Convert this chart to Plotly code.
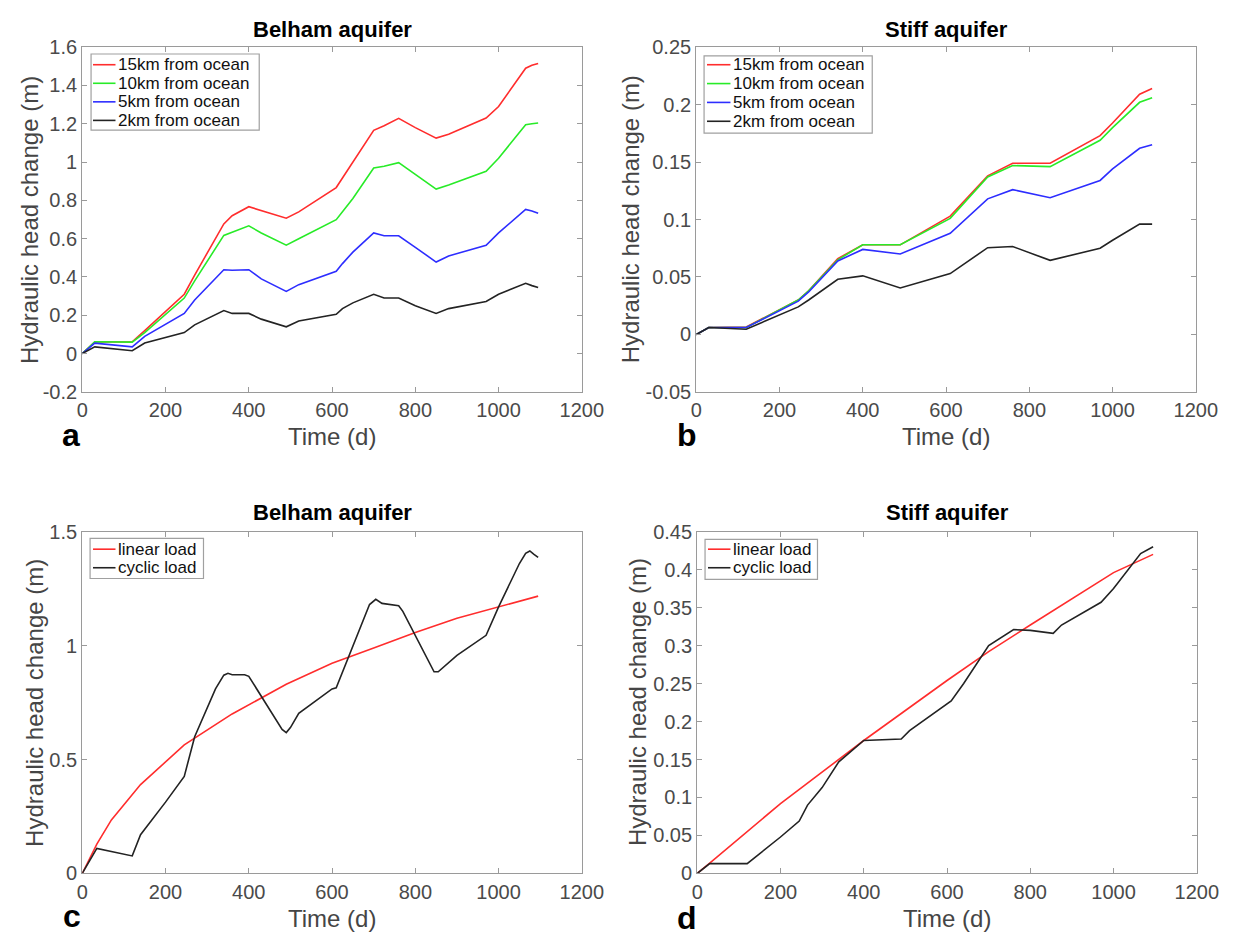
import plotly.graph_objects as go

# ---- Panel a / b : head change at different distances from the ocean ----
t_belham = [0, 30, 120, 150, 245, 270, 340, 360, 400, 430, 490, 520, 610, 625, 650,
            700, 725, 760, 800, 850, 880, 970, 1000, 1065, 1080, 1095]
belham_15km = [0, 0.061, 0.062, 0.12, 0.31, 0.41, 0.677, 0.72, 0.767, 0.747, 0.707, 0.74,
               0.867, 0.917, 1.0, 1.166, 1.19, 1.228, 1.18, 1.125, 1.145, 1.23, 1.29,
               1.49, 1.505, 1.515]
belham_10km = [0, 0.062, 0.06, 0.11, 0.29, 0.38, 0.617, 0.635, 0.667, 0.63, 0.566, 0.6,
               0.699, 0.74, 0.81, 0.969, 0.978, 0.997, 0.935, 0.859, 0.88, 0.952, 1.02,
               1.195, 1.2, 1.204]
belham_5km = [0, 0.055, 0.035, 0.09, 0.21, 0.28, 0.438, 0.435, 0.438, 0.39, 0.325, 0.36,
              0.43, 0.47, 0.53, 0.63, 0.615, 0.615, 0.555, 0.478, 0.51, 0.566, 0.63,
              0.753, 0.745, 0.733]
belham_2km = [0, 0.035, 0.015, 0.055, 0.11, 0.15, 0.225, 0.21, 0.21, 0.18, 0.14, 0.17,
              0.205, 0.235, 0.265, 0.31, 0.29, 0.29, 0.25, 0.21, 0.235, 0.272, 0.31,
              0.367, 0.355, 0.345]

t_stiff = [0, 30, 120, 245, 270, 340, 400, 490, 610, 700, 760, 850, 970, 1000, 1065, 1095]
stiff_15km = [0, 0.006, 0.0065, 0.030, 0.038, 0.066, 0.078, 0.078, 0.103, 0.138, 0.149,
              0.149, 0.173, 0.184, 0.209, 0.214]
stiff_10km = [0, 0.006, 0.006, 0.030, 0.038, 0.065, 0.078, 0.078, 0.101, 0.137, 0.147,
              0.146, 0.169, 0.180, 0.202, 0.206]
stiff_5km = [0, 0.006, 0.006, 0.029, 0.037, 0.064, 0.074, 0.070, 0.088, 0.118, 0.126,
             0.119, 0.134, 0.144, 0.162, 0.165]
stiff_2km = [0, 0.006, 0.0045, 0.024, 0.030, 0.048, 0.051, 0.0405, 0.053, 0.0755, 0.0765,
             0.0645, 0.075, 0.082, 0.096, 0.096]

# ---- Panel c / d : linear vs cyclic loading ----
t_lin_c = [0, 35, 70, 140, 245, 360, 490, 600, 700, 800, 900, 1000, 1095]
belham_linear = [0, 0.129, 0.235, 0.39, 0.564, 0.70, 0.83, 0.922, 0.989, 1.057, 1.12,
                 1.17, 1.217]
t_cyc_c = [0, 35, 120, 140, 200, 245, 270, 300, 320, 340, 350, 360, 390, 400, 480, 490,
           500, 520, 600, 610, 640, 670, 690, 705, 720, 760, 770, 845, 855, 900, 970,
           1000, 1030, 1050, 1065, 1075, 1085, 1095]
belham_cyclic = [0, 0.11, 0.077, 0.17, 0.313, 0.426, 0.6, 0.73, 0.81, 0.87, 0.878, 0.872,
                 0.872, 0.865, 0.632, 0.618, 0.64, 0.703, 0.81, 0.815, 0.95, 1.09, 1.18,
                 1.203, 1.185, 1.175, 1.15, 0.885, 0.885, 0.957, 1.045, 1.17, 1.28, 1.36,
                 1.405, 1.415, 1.40, 1.387]

t_lin_d = [0, 30, 200, 400, 600, 700, 800, 1000, 1095]
stiff_linear = [0, 0.0136, 0.092, 0.175, 0.254, 0.292, 0.327, 0.396, 0.42]
t_cyc_d = [0, 30, 120, 200, 245, 265, 300, 340, 400, 490, 510, 610, 640, 700, 760, 800,
           855, 875, 970, 1000, 1065, 1095]
stiff_cyclic = [0, 0.013, 0.013, 0.048, 0.069, 0.09, 0.113, 0.147, 0.175, 0.177, 0.188,
                0.227, 0.25, 0.30, 0.321, 0.32, 0.316, 0.327, 0.357, 0.375, 0.421, 0.43]

# ---- Tick labels ----
x_ticks = [0, 200, 400, 600, 800, 1000, 1200]
x_ticklabels = ["0", "200", "400", "600", "800", "1000", "1200"]
ya_ticks = [-0.2, 0, 0.2, 0.4, 0.6, 0.8, 1.0, 1.2, 1.4, 1.6]
ya_ticklabels = ["-0.2", "0", "0.2", "0.4", "0.6", "0.8", "1", "1.2", "1.4", "1.6"]
yb_ticks = [-0.05, 0, 0.05, 0.1, 0.15, 0.2, 0.25]
yb_ticklabels = ["-0.05", "0", "0.05", "0.1", "0.15", "0.2", "0.25"]
yc_ticks = [0, 0.5, 1.0, 1.5]
yc_ticklabels = ["0", "0.5", "1", "1.5"]
yd_ticks = [0, 0.05, 0.1, 0.15, 0.2, 0.25, 0.3, 0.35, 0.4, 0.45]
yd_ticklabels = ["0", "0.05", "0.1", "0.15", "0.2", "0.25", "0.3", "0.35", "0.4", "0.45"]

distance_names = ["15km from ocean", "10km from ocean", "5km from ocean", "2km from ocean"]
load_names = ["linear load", "cyclic load"]

RED = "rgb(255,45,45)"
GREEN = "rgb(40,235,40)"
BLUE = "rgb(45,45,255)"
BLACK = "rgb(35,35,35)"
LW = 1.6
FONT = "Liberation Sans, Arial, sans-serif"
W, H = 1255, 946

fig = go.Figure()


def add_line(x, y, name, color, xa, ya):
    fig.add_trace(go.Scatter(x=x, y=y, name=name, mode="lines",
                             line=dict(color=color, width=LW),
                             xaxis=xa, yaxis=ya, showlegend=False))


colors4 = [RED, GREEN, BLUE, BLACK]
for name, ys, c in zip(distance_names, [belham_15km, belham_10km, belham_5km, belham_2km], colors4):
    add_line(t_belham, ys, name, c, "x", "y")
for name, ys, c in zip(distance_names, [stiff_15km, stiff_10km, stiff_5km, stiff_2km], colors4):
    add_line(t_stiff, ys, name, c, "x2", "y2")
add_line(t_lin_c, belham_linear, load_names[0], RED, "x3", "y3")
add_line(t_cyc_c, belham_cyclic, load_names[1], BLACK, "x3", "y3")
add_line(t_lin_d, stiff_linear, load_names[0], RED, "x4", "y4")
add_line(t_cyc_d, stiff_cyclic, load_names[1], BLACK, "x4", "y4")


def px_x(p):
    return p / W


def px_y(p):
    return 1 - p / H


AX_COLOR = "#9a9a9a"
TICK_FONT = dict(family=FONT, size=20, color="#4a4a4a")

# plot areas in pixels: left, right, top, bottom
boxes = {
    "": (78, 589, 37, 390),
    "2": (706, 1217, 37, 390),
    "3": (78, 589, 533, 883),
    "4": (707, 1218, 533, 883),
}
yinfo = {
    "": ([-0.2, 1.6], ya_ticks, ya_ticklabels),
    "2": ([-0.05, 0.25], yb_ticks, yb_ticklabels),
    "3": ([0, 1.5], yc_ticks, yc_ticklabels),
    "4": ([0, 0.45], yd_ticks, yd_ticklabels),
}

layout_axes = {}
for k, (l, r, t, b) in boxes.items():
    yr, yt, yl = yinfo[k]
    common = dict(showline=True, linecolor=AX_COLOR, linewidth=1.2, mirror="ticks",
                  ticks="inside", ticklen=5, tickcolor=AX_COLOR, tickwidth=1,
                  showgrid=False, zeroline=False, tickfont=TICK_FONT, fixedrange=True)
    layout_axes["xaxis" + k] = dict(domain=[px_x(l), px_x(r)], range=[0, 1200],
                                    tickvals=x_ticks, ticktext=x_ticklabels,
                                    anchor="y" + k, **common)
    layout_axes["yaxis" + k] = dict(domain=[px_y(b), px_y(t)], range=yr,
                                    tickvals=yt, ticktext=yl,
                                    anchor="x" + k, **common)

fig.update_layout(**layout_axes)

shapes = []
annotations = []

# legend boxes: (left, top, right, bottom, first row y, row step, line x0, line x1, names, colours)
legends = [
    (87, 44, 259, 122, 55, 19, 89, 112, distance_names, colors4),
    (714, 46, 886, 125, 55, 19.3, 717, 741, distance_names, colors4),
    (86, 540, 202, 581, 551, 19, 89, 112, load_names, [RED, BLACK]),
    (715, 541, 830, 582, 551, 19, 718, 741, load_names, [RED, BLACK]),
]
for (l, t, r, b, y0, dy, lx0, lx1, names, cols) in legends:
    shapes.append(dict(type="rect", xref="paper", yref="paper",
                       x0=px_x(l), x1=px_x(r), y0=px_y(b), y1=px_y(t),
                       line=dict(color="#a0a0a0", width=1.2), fillcolor="white",
                       layer="above"))
    for i, (nm, c) in enumerate(zip(names, cols)):
        yy = y0 + i * dy
        shapes.append(dict(type="line", xref="paper", yref="paper",
                           x0=px_x(lx0), x1=px_x(lx1), y0=px_y(yy), y1=px_y(yy),
                           line=dict(color=c, width=LW), layer="above"))
        annotations.append(dict(text=nm, x=px_x(lx1 + 0.5), y=px_y(yy), xref="paper",
                                yref="paper", showarrow=False, xanchor="left",
                                yanchor="middle",
                                font=dict(family=FONT, size=17, color="#111")))

# panel titles
for txt, cx, cy in [("Belham aquifer", 333.5, 19), ("Stiff aquifer", 961.5, 19),
                    ("Belham aquifer", 333.5, 513), ("Stiff aquifer", 962.5, 513)]:
    annotations.append(dict(text="<b>%s</b>" % txt, x=px_x(cx), y=px_y(cy),
                            xref="paper", yref="paper", showarrow=False,
                            xanchor="center", yanchor="middle",
                            font=dict(family=FONT, size=22, color="black")))
# x-axis titles
for cx, cy in [(333.5, 436), (961.5, 436), (333.5, 929), (962.5, 929)]:
    annotations.append(dict(text="Time (d)", x=px_x(cx), y=px_y(cy), xref="paper",
                            yref="paper", showarrow=False, xanchor="center",
                            yanchor="middle",
                            font=dict(family=FONT, size=24, color="#454545")))
# y-axis titles
for cx, cy in [(24, 213.5), (639, 213.5), (29, 708), (646, 708)]:
    annotations.append(dict(text="Hydraulic head change (m)", x=px_x(cx), y=px_y(cy),
                            xref="paper", yref="paper", showarrow=False, textangle=-90,
                            xanchor="center", yanchor="middle",
                            font=dict(family=FONT, size=24, color="#454545")))
# panel letters
for txt, cx, cy in [("a", 66, 434), ("b", 697, 434), ("c", 68, 927), ("d", 697, 929)]:
    annotations.append(dict(text="<b>%s</b>" % txt, x=px_x(cx), y=px_y(cy),
                            xref="paper", yref="paper", showarrow=False,
                            xanchor="center", yanchor="middle",
                            font=dict(family=FONT, size=32, color="black")))

fig.update_layout(shapes=shapes, annotations=annotations, width=W, height=H,
                  margin=dict(l=0, r=0, t=0, b=0), paper_bgcolor="white",
                  plot_bgcolor="white", showlegend=False)

fig.write_html("out.html", config={"displayModeBar": False})
